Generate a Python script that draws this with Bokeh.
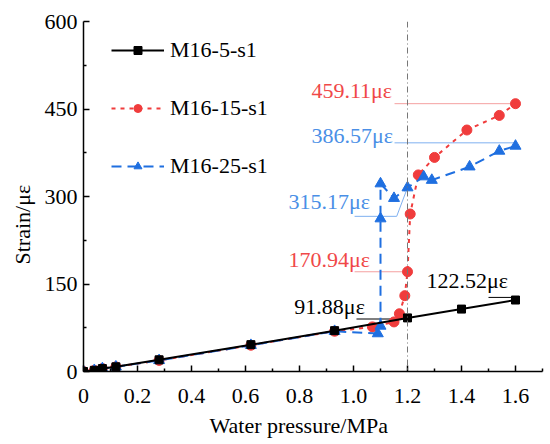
from bokeh.plotting import figure
from bokeh.models import Range1d, FixedTicker, CustomJSTickFormatter, Legend, LegendItem, Title, Span
from bokeh.embed import file_html
from bokeh.resources import INLINE
from bokeh.core.properties import value

# ---- data ----
x5 = [0, 0.04, 0.07, 0.12, 0.28, 0.62, 0.93, 1.2, 1.4, 1.6]
y5 = [0, 2, 5, 8, 20, 46, 70, 91.88, 107, 122.52]

x15 = [0, 0.04, 0.07, 0.12, 0.28, 0.62, 0.93, 1.07, 1.15, 1.17, 1.19, 1.2, 1.21, 1.24, 1.3, 1.42, 1.54, 1.6]
y15 = [0, 2, 5, 8, 19, 45, 69, 76.5, 85, 99, 130, 170.94, 270, 337, 367, 414, 439, 459.11]

x25 = [0, 0.04, 0.07, 0.12, 0.28, 0.62, 0.93, 1.09, 1.1, 1.1, 1.1, 1.15, 1.2, 1.26, 1.29, 1.43, 1.54, 1.6]
y25 = [0, 2, 5, 8, 19, 45, 69, 65, 78, 262, 322, 297, 315.17, 334, 328, 351, 378, 386.57]

series_names = ["M16-5-s1", "M16-15-s1", "M16-25-s1"]

x_ticks = [0, 0.2, 0.4, 0.6, 0.8, 1.0, 1.2, 1.4, 1.6]
x_minor = [0.1, 0.3, 0.5, 0.7, 0.9, 1.1, 1.3, 1.5, 1.7]
y_ticks = [0, 150, 300, 450, 600]
y_minor = [75, 225, 375, 525]

ref_x = 1.2

ann_text = ["459.11\u03bc\u03b5", "386.57\u03bc\u03b5", "315.17\u03bc\u03b5", "170.94\u03bc\u03b5", "91.88\u03bc\u03b5", "122.52\u03bc\u03b5"]
ann_tx = [0.844, 0.844, 0.759, 0.759, 0.781, 1.27]
ann_ty = [481, 404, 291, 192, 111, 156]
lead_xs = [[1.152, 1.6], [1.152, 1.6], [1.004, 1.16, 1.2], [1.004, 1.2], [1.011, 1.2], [1.5, 1.6]]
lead_ys = [[459.11, 459.11], [392, 392], [266, 266, 315.17], [171, 171], [90, 90], [127, 127]]

BLACK = "#000000"
RED = "#f03c3c"
BLUE = "#1f6fe0"
ann_color = ["#f04848", "#4a8fe6", "#4a8fe6", "#f04848", "#000000", "#000000"]
lead_color = ["#f4a0a0", "#7fb0f0", "#7fb0f0", "#f4a0a0", "#000000", "#000000"]

TFONT = "'Liberation Serif', 'Times New Roman', serif"
FS = "22px"

p = figure(width=550, height=444, output_backend="svg", toolbar_location=None,
           x_range=Range1d(0, 1.7), y_range=Range1d(0, 600),
           min_border_left=82, min_border_right=8, min_border_top=21, min_border_bottom=73)
p.outline_line_color = None
p.grid.visible = False
p.background_fill_color = "white"

# reference vertical line
p.add_layout(Span(location=ref_x, dimension="height", line_color="#777777",
                  line_width=1, line_dash="6 3 1 3"))

# leader lines
p.multi_line(xs=lead_xs, ys=lead_ys, line_color=lead_color, line_width=1)

r15l = p.line(x15, y15, line_color=RED, line_width=2, line_dash="4 5")
r15m = p.scatter(x15, y15, marker="circle", size=10, fill_color=RED, line_color=RED)
r25l = p.line(x25, y25, line_color=BLUE, line_width=2, line_dash="10 6")
r25m = p.scatter(x25, y25, marker="triangle", size=11, fill_color=BLUE, line_color=BLUE)
r5l = p.line(x5, y5, line_color=BLACK, line_width=2)
r5m = p.scatter(x5, y5, marker="square", size=8, fill_color=BLACK, line_color=BLACK)

p.text(x=ann_tx, y=ann_ty, text=ann_text, text_color=ann_color,
       text_font=value(TFONT), text_font_size=FS, text_align="left", text_baseline="middle")

legend = Legend(items=[LegendItem(label=series_names[0], renderers=[r5l, r5m]),
                       LegendItem(label=series_names[1], renderers=[r15l, r15m]),
                       LegendItem(label=series_names[2], renderers=[r25l, r25m])],
                location=(28, 192), orientation="vertical")
legend.padding = 0
legend.margin = 0
legend.border_line_color = None
legend.background_fill_alpha = 0
legend.glyph_width = 53
legend.glyph_height = 20
legend.label_height = 20
legend.spacing = 32
legend.label_standoff = 6
legend.label_text_font = TFONT
legend.label_text_font_size = FS
legend.label_text_color = "#000000"
p.add_layout(legend, "center")

fmt = CustomJSTickFormatter(code="return tick == 0 ? '0' : tick.toFixed(1);")
xa = p.xaxis[0]
xa.ticker = FixedTicker(ticks=x_ticks, minor_ticks=x_minor)
xa.formatter = fmt
ya = p.yaxis[0]
ya.ticker = FixedTicker(ticks=y_ticks, minor_ticks=y_minor)

for ax in (xa, ya):
    ax.major_tick_in = 6
    ax.major_tick_out = 0
    ax.minor_tick_in = 3
    ax.minor_tick_out = 0
    ax.axis_line_width = 1.5
    ax.major_tick_line_width = 1.5
    ax.minor_tick_line_width = 1.5
    ax.major_label_text_font = TFONT
    ax.major_label_text_font_size = FS
    ax.major_label_text_color = "#000000"
    ax.axis_line_color = "#000000"
    ax.major_tick_line_color = "#000000"
    ax.minor_tick_line_color = "#000000"
xa.major_label_standoff = 17
ya.major_label_standoff = 6

# axis titles positioned as in the reference
p.add_layout(Title(text="Water pressure/MPa", align="left", offset=126, standoff=10,
                   text_font=TFONT, text_font_size=FS, text_font_style="normal",
                   text_color="#000000"), "below")
p.add_layout(Title(text="Strain/\u03bc\u03b5", align="left", offset=107, standoff=14,
                   text_font=TFONT, text_font_size=FS, text_font_style="normal",
                   text_color="#000000"), "left")

open("out.html", "w").write(file_html(p, INLINE))
